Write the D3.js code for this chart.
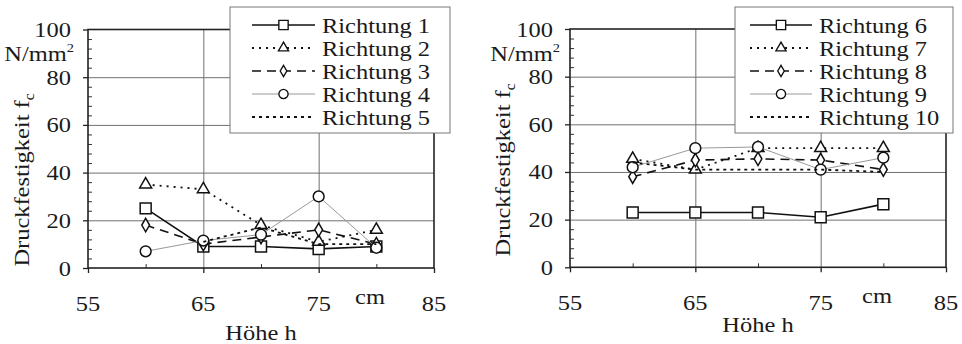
<!DOCTYPE html>
<html><head><meta charset="utf-8">
<script src="https://cdn.jsdelivr.net/npm/d3@7"></script>
<style>
body{margin:0;background:#fff}
svg{display:block}
</style>
</head><body>
<svg id="chart" width="962" height="344"></svg>
<script>
// Höhe h in cm
const hoehe = [60, 65, 70, 75, 80];
const xTicks = [55, 65, 75, 85];
const xMinorTicks = [60, 70, 80];
const yTicks = [0, 20, 40, 60, 80, 100];

// Druckfestigkeit f_c in N/mm², Richtungen 1–5
const namesLeft = ["Richtung 1", "Richtung 2", "Richtung 3", "Richtung 4", "Richtung 5"];
const richtung1 = [25, 9, 9, 8, 9];
const richtung2 = [35, 33, 18, 11, 16];
const richtung3 = [18, 10, 13, 16, 10];
const richtung4 = [7, 11.5, 14, 30, 8.5];
const richtung5 = [null, 11, 17, 10, 10];

// Richtungen 6–10
const namesRight = ["Richtung 6", "Richtung 7", "Richtung 8", "Richtung 9", "Richtung 10"];
const richtung6 = [23, 23, 23, 21, 26.5];
const richtung7 = [45.5, 41, 50, 50, 50];
const richtung8 = [38, 45, 45.5, 45, 41];
const richtung9 = [42, 50, 50.5, 41, 46];
const richtung10 = [44, 41, 41, 41, 40];

const styles = [
  {color: "#111", width: 1.6, dash: null, marker: "square"},
  {color: "#111", width: 1.8, dash: "2,5", marker: "triangle"},
  {color: "#111", width: 1.6, dash: "9,6", marker: "diamond"},
  {color: "#999", width: 1.0, dash: null, marker: "circle"},
  {color: "#111", width: 1.8, dash: "3,4", marker: null}
];

const FAMILY = "Liberation Serif";
const FONT = 22;
const svg = d3.select("#chart");

// horizontal stretch so that "Richtung 1" spans about 108 px
const probe = svg.append("text").attr("font-family", FAMILY).attr("font-size", FONT).text("Richtung 1");
const SX = Math.min(1.25, Math.max(0.9, 108 / probe.node().getComputedTextLength()));
probe.remove();

function label(g, x, y, str, anchor, rotate) {
  const t = g.append("text")
    .attr("transform", `translate(${x},${y})` + (rotate ? ` rotate(${rotate})` : "") + ` scale(${SX},1)`)
    .attr("text-anchor", anchor || "middle")
    .attr("font-family", FAMILY)
    .attr("font-size", FONT)
    .attr("fill", "#1a1a1a");
  if (str) t.text(str);
  return t;
}

function markerPath(type) {
  const sym = {
    square: d3.symbol(d3.symbolSquare, 120),
    triangle: d3.symbol(d3.symbolTriangle, 62),
    diamond: d3.symbol(d3.symbolDiamond, 52),
    circle: d3.symbol(d3.symbolCircle, 92)
  }[type];
  return sym();
}

function panel(cfg) {
  const g = svg.append("g");
  const x = d3.scaleLinear().domain([55, 85]).range([cfg.x0, cfg.x1]);
  const y = d3.scaleLinear().domain([0, 100]).range([cfg.y0, cfg.y1]);
  const w = cfg.x1 - cfg.x0, h = cfg.y0 - cfg.y1;

  // grid lines
  g.append("g").attr("transform", `translate(${cfg.x0},0)`)
    .call(d3.axisLeft(y).tickValues([20, 40, 60, 80]).tickSize(-w).tickFormat(""))
    .call(a => a.select(".domain").remove())
    .selectAll("line").attr("stroke", "#707070").attr("stroke-width", 1);
  g.append("g").attr("transform", `translate(0,${cfg.y0})`)
    .call(d3.axisBottom(x).tickValues([65, 75]).tickSize(-h).tickFormat(""))
    .call(a => a.select(".domain").remove())
    .selectAll("line").attr("stroke", "#707070").attr("stroke-width", 1);

  // minor ticks pointing inward
  const yMinor = d3.range(0, 101, 4).filter(v => v % 20 !== 0);
  g.append("g").attr("transform", `translate(${cfg.x0},0)`)
    .call(d3.axisRight(y).tickValues(yMinor).tickSize(4).tickFormat(""))
    .call(a => a.select(".domain").remove())
    .selectAll("line").attr("stroke", "#333");
  g.append("g").attr("transform", `translate(0,${cfg.y0})`)
    .call(d3.axisTop(x).tickValues(xMinorTicks).tickSize(4).tickFormat(""))
    .call(a => a.select(".domain").remove())
    .selectAll("line").attr("stroke", "#333");

  // major ticks pointing outward
  g.append("g").attr("transform", `translate(${cfg.x0},0)`)
    .call(d3.axisLeft(y).tickValues(yTicks).tickSize(5).tickFormat(""))
    .call(a => a.select(".domain").remove())
    .selectAll("line").attr("stroke", "#222").attr("stroke-width", 1.3);
  g.append("g").attr("transform", `translate(0,${cfg.y0})`)
    .call(d3.axisBottom(x).tickValues(xTicks).tickSize(5).tickFormat(""))
    .call(a => a.select(".domain").remove())
    .selectAll("line").attr("stroke", "#222").attr("stroke-width", 1.3);

  // frame
  g.append("rect").attr("x", cfg.x0).attr("y", cfg.y1).attr("width", w).attr("height", h)
    .attr("fill", "none").attr("stroke", "#222").attr("stroke-width", 1.6);

  // tick labels
  yTicks.forEach(v => label(g, cfg.x0 - 17, y(v) + 7.5, String(v), "end"));
  xTicks.forEach(v => label(g, x(v), cfg.y0 + 43, String(v), "middle"));
  label(g, cfg.cmX, cfg.y0 + 36, "cm", "middle");
  const unit = label(g, cfg.unitX, 61, null, "end");
  unit.append("tspan").text("N/mm");
  unit.append("tspan").attr("dy", -9).attr("font-size", 13).text("2");

  // axis titles
  label(g, (cfg.x0 + cfg.x1) / 2, cfg.titleY, "Höhe h", "middle");
  const yt = label(g, cfg.ytX, cfg.ytY, null, "middle", -90);
  yt.append("tspan").text("Druckfestigkeit f");
  yt.append("tspan").attr("dy", 5).attr("font-size", 14).text("c");

  // series
  const line = d3.line().defined(d => d[1] != null).x(d => x(d[0])).y(d => y(d[1]));
  cfg.series.forEach((vals, i) => {
    const st = styles[i];
    const pts = hoehe.map((hv, k) => [hv, vals[k]]);
    g.append("path").attr("d", line(pts)).attr("fill", "none")
      .attr("stroke", st.color).attr("stroke-width", st.width)
      .attr("stroke-dasharray", st.dash);
    if (st.marker) {
      g.selectAll(null).data(pts.filter(d => d[1] != null)).join("path")
        .attr("d", markerPath(st.marker))
        .attr("transform", d => `translate(${x(d[0])},${y(d[1])})`)
        .attr("fill", "#fff").attr("stroke", "#111").attr("stroke-width", 1.5);
    }
  });

  // legend
  const lg = g.append("g");
  lg.append("rect").attr("x", cfg.lgX0).attr("y", 7).attr("width", cfg.lgX1 - cfg.lgX0).attr("height", 126)
    .attr("fill", "#fff").attr("stroke", "#777").attr("stroke-width", 1);
  cfg.names.forEach((name, i) => {
    const st = styles[i];
    const ry = 25 + i * 23;
    lg.append("line").attr("x1", cfg.lineX0).attr("x2", cfg.lineX1).attr("y1", ry).attr("y2", ry)
      .attr("stroke", st.color).attr("stroke-width", st.width).attr("stroke-dasharray", st.dash);
    if (st.marker) {
      lg.append("path").attr("d", markerPath(st.marker))
        .attr("transform", `translate(${(cfg.lineX0 + cfg.lineX1) / 2},${ry}) scale(0.85)`)
        .attr("fill", "#fff").attr("stroke", "#111").attr("stroke-width", 1.6);
    }
    label(lg, cfg.lineX1 + 7, ry + 7.5, name, "start");
  });
}

panel({
  x0: 88, x1: 434, y0: 268, y1: 29.5,
  cmX: 370, unitX: 74, titleY: 340, ytX: 29, ytY: 180,
  lgX0: 230, lgX1: 450, lineX0: 252, lineX1: 315,
  names: namesLeft,
  series: [richtung1, richtung2, richtung3, richtung4, richtung5]
});
panel({
  x0: 570, x1: 946, y0: 267.3, y1: 29,
  cmX: 877, unitX: 560, titleY: 332, ytX: 510, ytY: 170,
  lgX0: 735, lgX1: 953, lineX0: 750, lineX1: 812,
  names: namesRight,
  series: [richtung6, richtung7, richtung8, richtung9, richtung10]
});
</script>
</body></html>
